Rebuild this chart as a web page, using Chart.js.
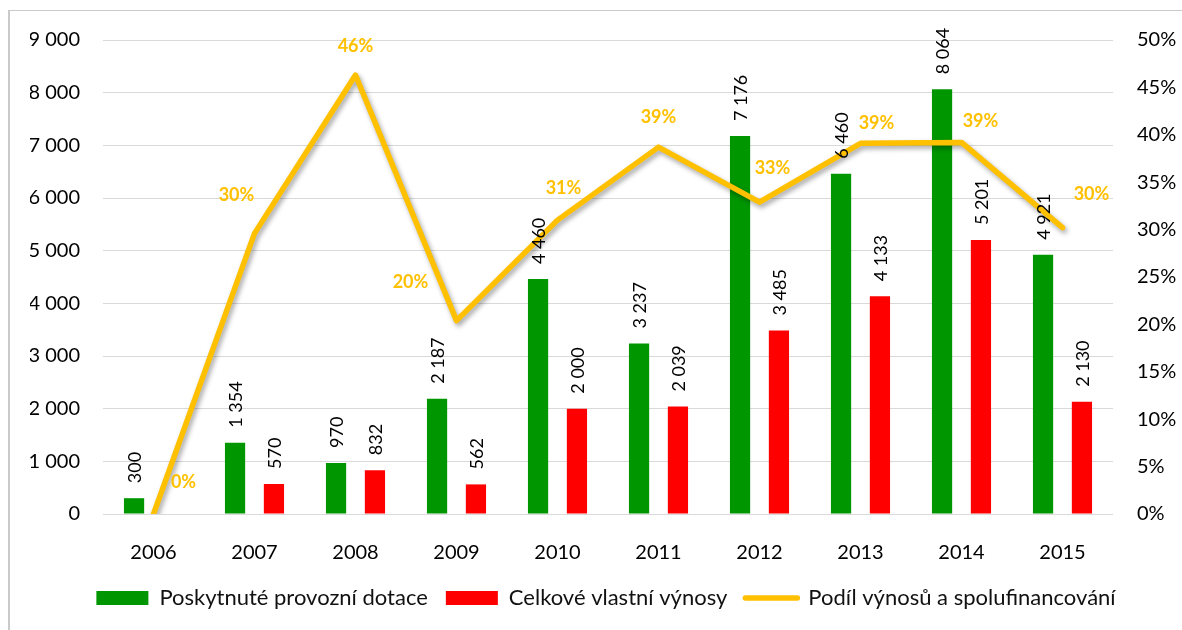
<!DOCTYPE html>
<html>
<head>
<meta charset="utf-8">
<script src="https://cdn.jsdelivr.net/npm/chart.js@4.4.1/dist/chart.umd.min.js"></script>
<style>
html,body{margin:0;padding:0;background:#fff;}
#wrap{position:relative;width:1182px;height:630px;overflow:hidden;background:#fff;}
#frame{position:absolute;left:8px;top:10px;right:-10px;bottom:-10px;border-left:2px solid #cacaca;border-top:1px solid #cacaca;pointer-events:none;}
canvas{position:absolute;left:0;top:0;}
</style>
</head>
<body>
<div id="wrap"><canvas id="c" width="1182" height="630"></canvas><div id="frame"></div></div>
<script>
// ---- data ----
const categories = ['2006','2007','2008','2009','2010','2011','2012','2013','2014','2015'];
const seriesNames = ['Poskytnuté provozní dotace','Celkové vlastní výnosy','Podíl výnosů a spolufinancování'];
const provozniDotace = [300, 1354, 970, 2187, 4460, 3237, 7176, 6460, 8064, 4921];
const vlastniVynosy = [null, 570, 832, 562, 2000, 2039, 3485, 4133, 5201, 2130];
const podilVynosu = [0, 29.6, 46.3, 20.4, 31.0, 38.7, 32.9, 39.1, 39.2, 30.2];
const leftTickValues = [0, 1000, 2000, 3000, 4000, 5000, 6000, 7000, 8000, 9000];
const rightTickValues = [0, 5, 10, 15, 20, 25, 30, 35, 40, 45, 50];

// ---- styling ----
const GREEN = '#009600', RED = '#FF0000', ORANGE = '#FFC000';
const FONT = 'Lato';
// placement of the percentage labels relative to their points (dx, dy)
const pctLabelOffsets = [[30,-32],[-18,-38],[0,-29],[-46,-38],[6,-32],[0,-30],[13,-34],[16,-20],[19,-21],[29,-34]];

const fmt = v => String(v).replace(/\B(?=(\d{3})+(?!\d))/g, ' ');

const lineShadow = {
  id: 'lineShadow',
  beforeDatasetDraw(chart, args) {
    if (chart.data.datasets[args.index].type === 'line') {
      const c = chart.ctx; c.save();
      c.shadowColor = 'rgba(0,0,0,0.35)'; c.shadowBlur = 5; c.shadowOffsetX = 2; c.shadowOffsetY = 3;
    }
  },
  afterDatasetDraw(chart, args) {
    if (chart.data.datasets[args.index].type === 'line') chart.ctx.restore();
  }
};

const valueLabels = {
  id: 'valueLabels',
  afterDraw(chart) {
    const ctx = chart.ctx;
    // percentage labels
    const lm = chart.getDatasetMeta(2);
    ctx.save();
    ctx.font = 'bold 18px ' + FONT; ctx.fillStyle = ORANGE;
    ctx.textAlign = 'center'; ctx.textBaseline = 'middle';
    lm.data.forEach((pt, i) => {
      const v = chart.data.datasets[2].data[i];
      const o = pctLabelOffsets[i];
      ctx.fillText(Math.round(v) + '%', pt.x + o[0], pt.y + o[1]);
    });
    ctx.restore();
    // bar labels, rotated
    [0, 1].forEach(di => {
      const meta = chart.getDatasetMeta(di);
      meta.data.forEach((bar, i) => {
        const v = chart.data.datasets[di].data[i];
        if (v == null) return;
        ctx.save();
        ctx.translate(bar.x, bar.y - 15);
        ctx.rotate(-Math.PI / 2);
        ctx.font = '18px ' + FONT; ctx.fillStyle = '#000';
        ctx.textAlign = 'left'; ctx.textBaseline = 'middle';
        ctx.fillText(fmt(v), 0, 1);
        ctx.restore();
      });
    });
  }
};

function make() {
  new Chart(document.getElementById('c'), {
    data: {
      labels: categories,
      datasets: [
        { type: 'bar', label: seriesNames[0], data: provozniDotace, backgroundColor: GREEN, yAxisID: 'y', order: 1,
          categoryPercentage: 0.77, barPercentage: 0.52 },
        { type: 'bar', label: seriesNames[1], data: vlastniVynosy, backgroundColor: RED, yAxisID: 'y', order: 1,
          categoryPercentage: 0.77, barPercentage: 0.52 },
        { type: 'line', label: seriesNames[2], data: podilVynosu, borderColor: ORANGE, backgroundColor: ORANGE,
          borderWidth: 5.5, pointRadius: 0, tension: 0, yAxisID: 'y1', order: 0,
          borderJoinStyle: 'round', borderCapStyle: 'round' }
      ]
    },
    options: {
      responsive: false,
      devicePixelRatio: 1,
      animation: false,
      events: [],
      layout: { padding: { left: 30, right: 0, top: 40, bottom: 11 } },
      scales: {
        x: {
          grid: { display: false }, border: { display: false },
          ticks: { font: { family: FONT, size: 20 }, color: '#000', padding: 19 },
          afterFit(s) { s.height = 55; }
        },
        y: {
          position: 'left', min: 0, max: 9000,
          afterBuildTicks(s) { s.ticks = leftTickValues.map(v => ({ value: v })); },
          grid: { color: '#d9d9d9', lineWidth: 1, drawTicks: false }, border: { display: false },
          ticks: { font: { family: FONT, size: 20 }, color: '#000', padding: 23, callback: v => fmt(v) },
          afterFit(s) { s.width = 73; }
        },
        y1: {
          position: 'right', min: 0, max: 50,
          afterBuildTicks(s) { s.ticks = rightTickValues.map(v => ({ value: v })); },
          grid: { display: false, drawTicks: false }, border: { display: false },
          ticks: { font: { family: FONT, size: 20 }, color: '#000', padding: 24, callback: v => v + '%' },
          afterFit(s) { s.width = 69; }
        }
      },
      plugins: {
        tooltip: { enabled: false },
        legend: {
          position: 'bottom',
          labels: {
            usePointStyle: true, pointStyleWidth: 52, boxWidth: 52, boxHeight: 14, padding: 18,
            font: { family: FONT, size: 22 }, color: '#111',
            generateLabels(chart) {
              const items = Chart.defaults.plugins.legend.labels.generateLabels(chart);
              items.forEach(it => {
                const ds = chart.data.datasets[it.datasetIndex];
                if (ds.type === 'line') {
                  it.pointStyle = 'line'; it.lineWidth = 5.5; it.strokeStyle = ORANGE; it.lineCap = 'round';
                } else {
                  it.pointStyle = 'rect'; it.lineWidth = 0;
                }
              });
              items.sort((a, b) => a.datasetIndex - b.datasetIndex);
              return items;
            }
          }
        }
      }
    },
    plugins: [lineShadow, valueLabels]
  });
}
Promise.all([document.fonts.load('20px Lato'), document.fonts.load('22px Lato'), document.fonts.load('bold 18px Lato')]).then(make, make);
</script>
</body>
</html>
